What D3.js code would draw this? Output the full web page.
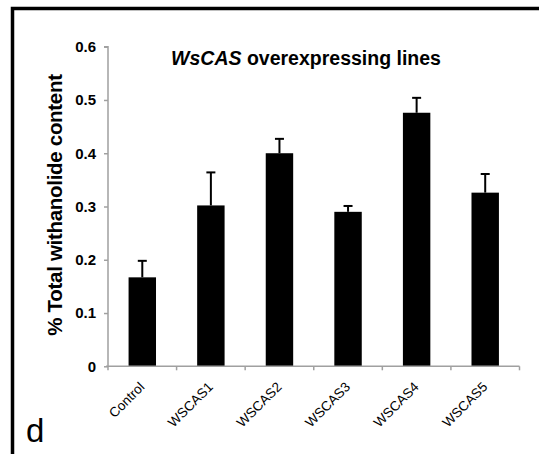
<!DOCTYPE html>
<html>
<head>
<meta charset="utf-8">
<script src="https://cdn.jsdelivr.net/npm/d3@7"></script>
<style>
  body { margin: 0; background: #fff; }
  svg { display: block; }
  text { font-family: Arial, "Liberation Sans", sans-serif; }
</style>
</head>
<body>
<div id="chart"></div>
<script>
// data
var categories = ["Control", "WSCAS1", "WSCAS2", "WSCAS3", "WSCAS4", "WSCAS5"];
var means = [0.167, 0.302, 0.400, 0.290, 0.476, 0.326];
var errors = [0.031, 0.062, 0.027, 0.011, 0.028, 0.035];
var yTicks = [0, 0.1, 0.2, 0.3, 0.4, 0.5, 0.6];

var svgWidth = 539, svgHeight = 454;
var margin = { top: 46.7, right: 20, bottom: 88, left: 108 };
var width = 519.5 - margin.left;
var height = 366.3 - margin.top;

var data = categories.map(function (c, i) {
  return { name: c, value: means[i], err: errors[i] };
});

var svg = d3.select("#chart")
  .append("svg")
  .attr("width", svgWidth)
  .attr("height", svgHeight);

// figure frame (only top and left edges are inside the picture)
svg.append("rect")
  .attr("x", 12.5)
  .attr("y", 8.5)
  .attr("width", 600)
  .attr("height", 600)
  .attr("fill", "none")
  .attr("stroke", "#000")
  .attr("stroke-width", 3.5);

var chartGroup = svg.append("g")
  .attr("transform", `translate(${margin.left}, ${margin.top})`);

var xScale = d3.scaleBand()
  .domain(categories)
  .range([0, width])
  .paddingInner(0.6)
  .paddingOuter(0.3);

var yScale = d3.scaleLinear()
  .domain([0, 0.6])
  .range([height, 0]);

// bars
chartGroup.selectAll("rect.bar")
  .data(data)
  .enter()
  .append("rect")
  .attr("class", "bar")
  .attr("x", d => xScale(d.name))
  .attr("y", d => yScale(d.value))
  .attr("width", xScale.bandwidth())
  .attr("height", d => height - yScale(d.value))
  .attr("fill", "#000");

// error bars (upper half only)
var errGroup = chartGroup.append("g");
errGroup.selectAll("line.stem")
  .data(data)
  .enter()
  .append("line")
  .attr("x1", d => xScale(d.name) + xScale.bandwidth() / 2)
  .attr("x2", d => xScale(d.name) + xScale.bandwidth() / 2)
  .attr("y1", d => yScale(d.value))
  .attr("y2", d => yScale(d.value + d.err))
  .attr("stroke", "#000")
  .attr("stroke-width", 2);

errGroup.selectAll("line.cap")
  .data(data)
  .enter()
  .append("line")
  .attr("x1", d => xScale(d.name) + xScale.bandwidth() / 2 - 4.5)
  .attr("x2", d => xScale(d.name) + xScale.bandwidth() / 2 + 4.5)
  .attr("y1", d => yScale(d.value + d.err))
  .attr("y2", d => yScale(d.value + d.err))
  .attr("stroke", "#000")
  .attr("stroke-width", 2);

// y axis
var leftAxis = d3.axisLeft(yScale)
  .tickValues(yTicks)
  .tickSize(4)
  .tickPadding(8)
  .tickFormat(d => d === 0 ? "0" : d3.format(".1f")(d));

var yAxis = chartGroup.append("g").call(leftAxis);
yAxis.select(".domain").attr("stroke", "#a0a0a0").attr("stroke-width", 1.5)
  .attr("d", `M-4,0H0V${height}`);
yAxis.selectAll(".tick line").attr("stroke", "#a0a0a0").attr("stroke-width", 1.5);
yAxis.selectAll(".tick text")
  .style("font-size", "15px")
  .style("font-weight", "bold")
  .attr("fill", "#000");

// x axis: ticks sit at the band boundaries
var bounds = d3.range(categories.length + 1).map(i => i * width / categories.length);
var xAxis = chartGroup.append("g")
  .attr("transform", `translate(0, ${height})`);
xAxis.append("line")
  .attr("x1", -2).attr("x2", width)
  .attr("y1", 0).attr("y2", 0)
  .attr("stroke", "#a0a0a0").attr("stroke-width", 1.5);
xAxis.selectAll("line.tick")
  .data(bounds)
  .enter()
  .append("line")
  .attr("x1", d => d).attr("x2", d => d)
  .attr("y1", 0).attr("y2", 4)
  .attr("stroke", "#a0a0a0").attr("stroke-width", 1.5);

xAxis.selectAll("text")
  .data(categories)
  .enter()
  .append("text")
  .attr("transform", d => `translate(${xScale(d) + xScale.bandwidth() / 2 + 3}, 21.5) rotate(-45)`)
  .attr("text-anchor", "end")
  .style("font-size", "13.5px")
  .attr("fill", "#000")
  .text(d => d);

// title
var title = chartGroup.append("text")
  .attr("x", 306 - margin.left)
  .attr("y", 65 - margin.top)
  .attr("text-anchor", "middle")
  .style("font-size", "19.5px")
  .style("font-weight", "bold");
title.append("tspan").style("font-style", "italic").text("WsCAS");
title.append("tspan").text(" overexpressing lines");

// y axis title
chartGroup.append("text")
  .attr("transform", "rotate(-90)")
  .attr("x", -(205 - margin.top))
  .attr("y", 62 - margin.left)
  .attr("text-anchor", "middle")
  .style("font-size", "20.5px")
  .style("font-weight", "bold")
  .style("letter-spacing", "-0.3px")
  .text("% Total withanolide content");

// panel letter
svg.append("text")
  .attr("x", 26)
  .attr("y", 442)
  .style("font-size", "33px")
  .text("d");
</script>
</body>
</html>
